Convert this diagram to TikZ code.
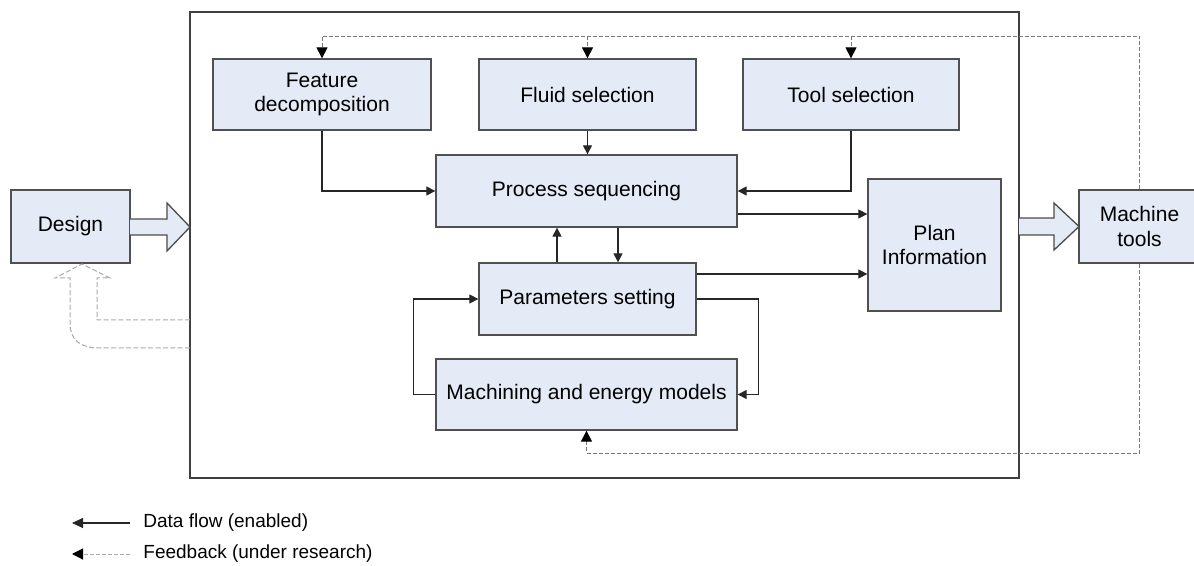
\documentclass[tikz,border=0pt]{standalone}
\usepackage{fontspec}
\setmainfont{Liberation Sans}
\usetikzlibrary{arrows.meta,calc}
\definecolor{boxfill}{RGB}{228,234,246}
\definecolor{boxline}{RGB}{80,80,80}
\definecolor{fbgray}{RGB}{120,120,120}
\definecolor{lightfb}{RGB}{170,170,170}
\tikzset{
  box/.style={draw=boxline,fill=boxfill,line width=0.65pt,align=center,inner sep=0pt,
    font=\fontsize{10.5}{12.4}\selectfont},
  flow/.style={draw=black!85,line width=0.6pt,-{Triangle[length=4.5pt,width=4.5pt]}},
  fbtip/.style={-{Triangle[length=5.5pt,width=5.5pt,line width=0.6pt,black,fill=black]}},
  fb/.style={draw=fbgray,line width=0.45pt,dash pattern=on 2pt off 1pt,fbtip},
  hollow/.style={draw=black!70,fill=boxfill,line width=0.65pt,line join=miter},
  legtext/.style={anchor=west,inner sep=0pt,font=\fontsize{9.5}{11}\selectfont}
}
\begin{document}
\begin{tikzpicture}[x=0.5pt,y=-0.5pt]
\useasboundingbox (0,0) rectangle (1194,566);
% outer frame
\draw[draw=black!75,line width=0.75pt] (190,12) rectangle (1019,478);
% boxes
\node[box,minimum width=109pt,minimum height=35.5pt] (feat) at (322,94.5) {Feature\\decomposition};
\node[box,minimum width=108.5pt,minimum height=35.5pt] (fluid) at (587.5,94.5) {Fluid selection};
\node[box,minimum width=108pt,minimum height=35.5pt] (tool) at (851,94.5) {Tool selection};
\node[box,minimum width=150.5pt,minimum height=36pt] (proc) at (586.5,191) {Process sequencing};
\node[box,minimum width=66.5pt,minimum height=66pt] (plan) at (934.5,245) {Plan\\Information};
\node[box,minimum width=108.5pt,minimum height=36pt] (par) at (587.5,299) {Parameters setting};
\node[box,minimum width=150.5pt,minimum height=35.5pt] (mach) at (586.5,394.5) {Machining and energy models};
\node[box,minimum width=59.5pt,minimum height=36.5pt] (design) at (70.5,226.5) {Design};
\node[box,minimum width=60.5pt,minimum height=36.5pt] (mt) at (1139.5,226.5) {Machine\\tools};
% helper coordinates
\coordinate (yA) at (0,214);
\coordinate (yB) at (0,274);
\coordinate (xU) at (557,0);
\coordinate (xD) at (618,0);
\coordinate (topY) at (0,36);
\coordinate (botY) at (0,453);
% data flow connectors
\draw[flow] (feat.south) |- (proc.west);
\draw[flow] (fluid.south) -- (fluid.south |- proc.north);
\draw[flow] (tool.south) |- (proc.east);
\draw[flow] (proc.east |- yA) -- (plan.west |- yA);
\draw[flow] (par.east |- yB) -- (plan.west |- yB);
\draw[flow] (par.north -| xU) -- (proc.south -| xU);
\draw[flow] (proc.south -| xD) -- (par.north -| xD);
\draw[flow] (par.east) -- ++(62,0) |- (mach.east);
\draw[flow] (mach.west) -- ++(-22,0) |- (par.west);
% feedback connectors
\draw[fb] (mt.north) -- (mt.north |- topY) -- (feat.north |- topY) -- (feat.north);
\draw[fb] (fluid.north |- topY) -- (fluid.north);
\draw[fb] (tool.north |- topY) -- (tool.north);
\draw[fb] (mt.south) -- (mt.south |- botY) -| (mach.south);
% hollow arrows
\draw[hollow] (130,219) -- (167,219) -- (167,203) -- (190,227) -- (167,251) -- (167,235) -- (130,235);
\draw[hollow] (1019,218) -- (1054,218) -- (1054,203) -- (1079,226.5) -- (1054,250) -- (1054,235) -- (1019,235);
% feedback hollow arrow to Design
\draw[draw=lightfb,line width=0.5pt,dash pattern=on 2.5pt off 1.2pt]
  (190,320) -- (97,320) -- (97,278) -- (110,278) -- (82,264) -- (55,278) -- (70,278) -- (70,323)
  .. controls (70,340) and (80,348) .. (100,348) -- (190,348);
% legend
\coordinate (l1a) at (130,523);
\coordinate (l1b) at (72,523);
\coordinate (l2a) at (130,554);
\coordinate (l2b) at (72,554);
\draw[flow,-{Triangle[length=5.5pt,width=5pt]}] (l1a) -- (l1b);
\draw[draw=lightfb,line width=0.45pt,dash pattern=on 2pt off 1pt,-{Triangle[length=5.5pt,width=5.5pt,line width=0.6pt,black,fill=black]}] (l2a) -- (l2b);
\node[legtext] (leg1) at (143,523) {Data flow (enabled)};
\node[legtext] (leg2) at (143,554) {Feedback (under research)};
\end{tikzpicture}
\end{document}
